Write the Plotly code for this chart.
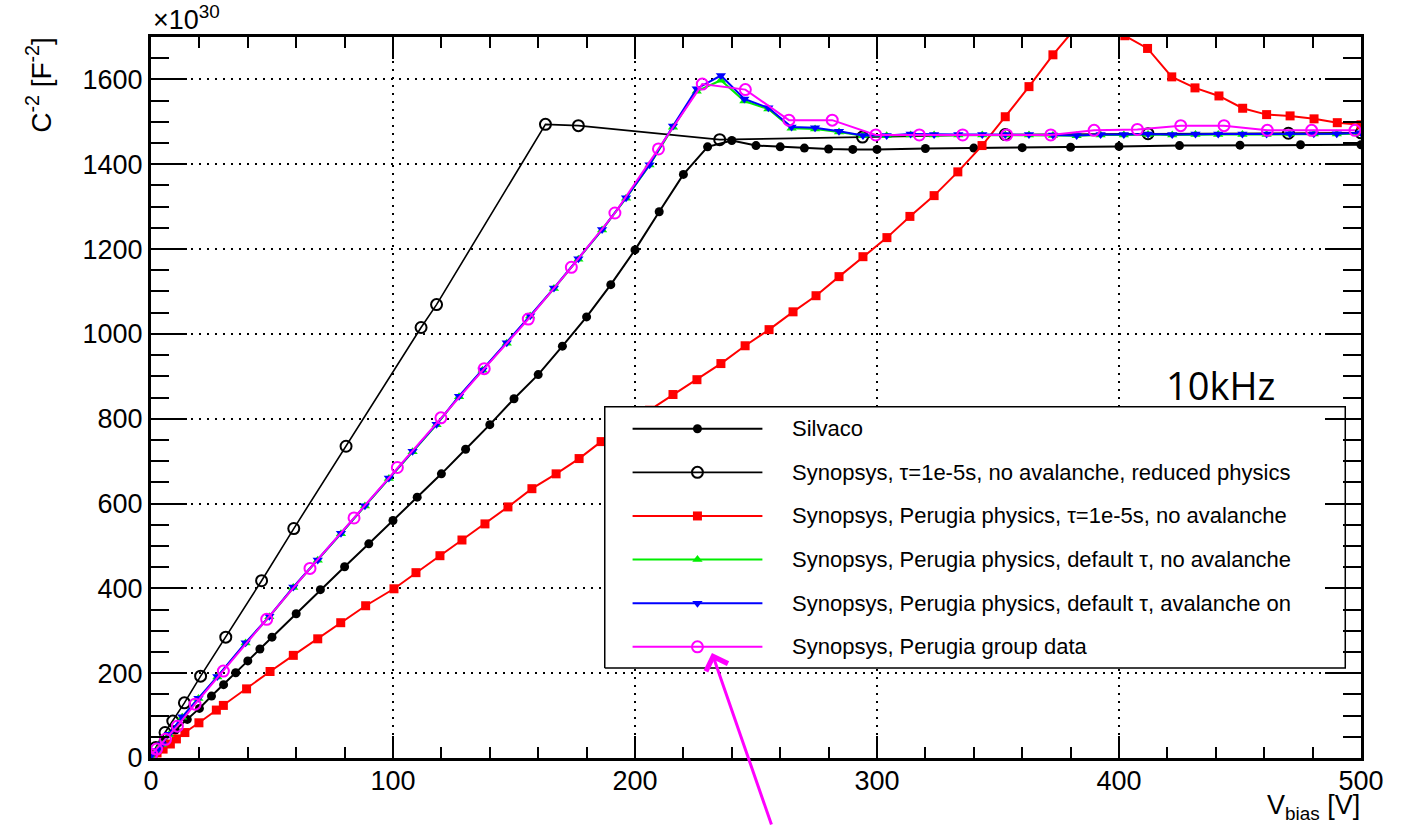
import plotly.graph_objects as go

# ---- data: V_bias [V] and C^-2 [1e30 F^-2] ----
silvaco_v = [0, 5, 10, 15, 20, 25, 30, 35, 40, 45, 50, 60, 70, 80, 90, 100, 110, 120, 130, 140,
             150, 160, 170, 180, 190, 200, 210, 220, 230, 240, 250, 260, 270, 280, 290, 300,
             320, 340, 360, 380, 400, 425, 450, 475, 500]
silvaco_c = [8, 40, 66, 91, 117, 146, 173, 201, 229, 257, 285, 340, 397, 451, 505, 560, 615, 670, 728, 786,
             847, 904, 971, 1040, 1116, 1198, 1288, 1376, 1441, 1456, 1444, 1441, 1438, 1436, 1435, 1435,
             1437, 1438, 1439, 1440, 1442, 1444, 1445, 1446, 1446]

reduced_v = [0, 2, 5.8, 9, 13.8, 20.5, 30.9, 45.7, 59, 80.6, 111.6, 118, 163, 176.6,
             235, 294, 353, 412, 470, 500]
reduced_c = [4, 25, 60, 87, 130, 193, 285, 418, 541, 735, 1015, 1069, 1494, 1491,
             1458, 1464, 1470, 1472, 1473, 1474]

perugia_tau_v = [0, 2.5, 5, 8, 10.5, 14, 19.8, 27, 29.9, 39.5, 49.2, 58.8, 68.9, 78.4, 88.7, 100.4,
                 109.5, 119.4, 128.5, 138, 147.5, 157.4, 167.4, 176.9, 186, 196, 206, 215.7, 225.6,
                 235.5, 245.5, 255.4, 265.3, 274.8, 284.3, 294.2, 304.1, 313.6, 323.6, 333.4, 343.4,
                 353, 362.8, 372.7, 382.6, 392.5, 402.4, 411.8, 421.8, 431.4, 441.3, 451.1, 461,
                 470.7, 480.6, 490.2, 500]
perugia_tau_c = [4, 12, 21, 33, 45, 60, 83, 113, 124, 163, 204, 242, 281, 319, 359, 399,
                 437, 477, 514, 552, 592, 635, 670, 706, 746, 783, 820, 857, 892,
                 930, 972, 1010, 1052, 1090, 1135, 1182, 1227, 1277, 1326, 1382, 1444,
                 1512, 1583, 1658, 1725, 1750, 1703, 1673, 1606, 1580, 1561, 1532, 1517,
                 1514, 1507, 1498, 1493]

default_v = [0, 2.5, 4.5, 7.4, 12.9, 19.6, 27.4, 39.1, 48.9, 58.8, 68.9, 78.5, 88.4, 98.3, 108.1,
             118, 127.3, 137, 147, 156.7, 166.5, 176.6, 186.4, 196.3, 206, 215.7, 225.5, 235.5,
             245.2, 255.1, 264.7, 274.4, 284.3, 294.2, 304, 313.9, 323.6, 333.6, 343.5, 353,
             362.8, 372.7, 382.5, 392.4, 402, 412, 422, 431.6, 441, 451, 461, 470.6, 480.5, 490, 500]
noaval_c = [5, 18, 32, 55, 96, 140, 191, 271, 333, 402, 466, 529, 594, 659, 722,
            786, 852, 914, 978, 1042, 1107, 1176, 1245, 1320, 1398, 1487, 1572, 1598,
            1549, 1530, 1485, 1483, 1476, 1467, 1467, 1469, 1469, 1469, 1469, 1469,
            1469, 1468, 1467, 1469, 1469, 1470, 1469, 1470, 1470, 1470, 1470, 1471, 1471, 1471, 1472]
aval_c = [5, 18, 32, 56, 97, 141, 192, 272, 334, 403, 467, 530, 595, 660, 723,
          787, 853, 915, 979, 1043, 1108, 1177, 1246, 1321, 1399, 1490, 1578, 1609,
          1554, 1533, 1488, 1486, 1478, 1468, 1468, 1471, 1470, 1470, 1470, 1470,
          1470, 1469, 1468, 1470, 1470, 1471, 1470, 1471, 1471, 1471, 1471, 1472, 1472, 1472, 1474]

group_v = [0.3, 2.3, 6, 10.9, 18.2, 29.9, 47.8, 65.7, 83.9, 101.8, 119.8, 137.7, 155.9, 173.7,
           191.7, 209.7, 227.8, 245.6, 263.6, 281.5, 299.5, 317.5, 335.4, 353.6, 371.8, 389.7,
           407.6, 425.5, 443.4, 461.3, 479.6, 497.5]
group_c = [9, 21, 44, 75, 127, 205, 327, 447, 566, 685, 802, 918, 1035, 1157,
           1285, 1436, 1589, 1576, 1504, 1504, 1469, 1469, 1469, 1469, 1469, 1480,
           1482, 1491, 1491, 1480, 1480, 1480]

labels = [
    "Silvaco",
    "Synopsys, τ=1e-5s, no avalanche, reduced physics",
    "Synopsys, Perugia physics, τ=1e-5s, no avalanche",
    "Synopsys, Perugia physics, default τ, no avalanche",
    "Synopsys, Perugia physics, default τ, avalanche on",
    "Synopsys, Perugia group data",
]

FONT = "Liberation Sans, Arial, Helvetica, sans-serif"

styles = [
    dict(color="black", symbol="circle", size=9, lw=2, open=False),
    dict(color="black", symbol="circle-open", size=11, lw=1.6, open=True),
    dict(color="#ff0000", symbol="square", size=9, lw=2, open=False),
    dict(color="#00ee00", symbol="triangle-up", size=9, lw=2, open=False),
    dict(color="#0000ff", symbol="triangle-down", size=9, lw=2, open=False),
    dict(color="#ff00ff", symbol="circle-open", size=11, lw=2, open=True),
]
series = [
    (silvaco_v, silvaco_c),
    (reduced_v, reduced_c),
    (perugia_tau_v, perugia_tau_c),
    (default_v, noaval_c),
    (default_v, aval_c),
    (group_v, group_c),
]


def marker_of(st):
    return dict(symbol=st["symbol"], size=st["size"], color=st["color"],
                line=dict(color=st["color"], width=2 if st["open"] else 0))


fig = go.Figure()
for (xs, ys), st, name in zip(series, styles, labels):
    fig.add_trace(go.Scatter(
        x=xs, y=ys, name=name, mode="lines+markers",
        line=dict(color=st["color"], width=st["lw"]),
        marker=marker_of(st), showlegend=False, cliponaxis=True,
    ))

# ---- legend box on an overlay axis pair spanning the plot area (0..1) ----
box_x0, box_x1, box_y0, box_y1 = 0.375, 0.987, 0.125, 0.487
row_top, row_step = 0.4567, 0.0605
line_x0, line_x1, mark_x, text_x = 0.398, 0.5053, 0.4516, 0.5285

fig.add_trace(go.Scatter(
    x=[box_x0, box_x1, box_x1, box_x0, box_x0], y=[box_y0, box_y0, box_y1, box_y1, box_y0],
    xaxis="x2", yaxis="y2", mode="lines", fill="toself", fillcolor="white",
    line=dict(color="black", width=1.5), showlegend=False, hoverinfo="skip",
))
for i, (st, name) in enumerate(zip(styles, labels)):
    yy = row_top - i * row_step
    fig.add_trace(go.Scatter(
        x=[line_x0, line_x1], y=[yy, yy], xaxis="x2", yaxis="y2", mode="lines",
        line=dict(color=st["color"], width=st["lw"]), showlegend=False, hoverinfo="skip",
    ))
    fig.add_trace(go.Scatter(
        x=[mark_x], y=[yy], xaxis="x2", yaxis="y2", mode="markers",
        marker=marker_of(st), showlegend=False, hoverinfo="skip",
    ))
    fig.add_annotation(x=text_x, y=yy, xref="paper", yref="paper", text=name,
                       showarrow=False, xanchor="left", yanchor="middle",
                       font=dict(family=FONT, size=22, color="black"))

axis_common = dict(
    showline=True, linecolor="black", linewidth=3, mirror="allticks",
    ticks="inside", tickcolor="black", tickwidth=2,
    showgrid=True, gridcolor="black", gridwidth=1.5, griddash="2px,6px",
    zeroline=False, tickfont=dict(family=FONT, size=27, color="black"),
)

fig.update_layout(
    width=1406, height=826,
    margin=dict(l=151, r=45, t=37, b=68),
    paper_bgcolor="white", plot_bgcolor="white",
    font=dict(family=FONT, color="black"),
    xaxis=dict(range=[0, 500], tickvals=[0, 100, 200, 300, 400, 500], ticklen=22,
               ticklabelstandoff=-3,
               minor=dict(dtick=20, ticklen=11, tickwidth=2, ticks="inside", tickcolor="black",
                          showgrid=False),
               **axis_common),
    yaxis=dict(range=[0, 1700], tickvals=[0, 200, 400, 600, 800, 1000, 1200, 1400, 1600],
               ticklen=36,
               minor=dict(dtick=50, ticklen=18, tickwidth=2, ticks="inside", tickcolor="black",
                          showgrid=False),
               **axis_common),
    xaxis2=dict(overlaying="x", range=[0, 1], visible=False, fixedrange=True),
    yaxis2=dict(overlaying="y", range=[0, 1], visible=False, fixedrange=True),
    showlegend=False,
)

# axis titles and exponent
fig.add_annotation(x=1.0, y=-0.043, xref="paper", yref="paper", xanchor="right", yanchor="top",
                   text="V<sub>bias</sub> [V]", showarrow=False, borderpad=0,
                   font=dict(family=FONT, size=27, color="black"))
fig.add_annotation(x=-0.0926, y=1.003, xref="paper", yref="paper", xanchor="center", yanchor="top",
                   text="C<sup>-2</sup> [F<sup>-2</sup>]", textangle=-90, showarrow=False,
                   font=dict(family=FONT, size=28, color="black"))
fig.add_annotation(x=0.0, y=1.0, xref="paper", yref="paper", xanchor="left", yanchor="bottom",
                   text="×10<sup>30</sup>", showarrow=False,
                   font=dict(family=FONT, size=27, color="black"))

# frequency tag
fig.add_annotation(x=0.884, y=0.517, xref="paper", yref="paper", xanchor="center", yanchor="middle",
                   text="10kHz", showarrow=False,
                   font=dict(family="Open Sans, sans-serif", size=38, color="black"))

# pointer to the Perugia group data entry
fig.add_annotation(x=0.4636, y=0.1456, xref="paper", yref="paper", text="",
                   showarrow=True, arrowhead=4, arrowsize=1.5, arrowwidth=3,
                   arrowcolor="#ff00ff", ax=60, ay=190, axref="pixel", ayref="pixel")

fig.write_html("out.html")
